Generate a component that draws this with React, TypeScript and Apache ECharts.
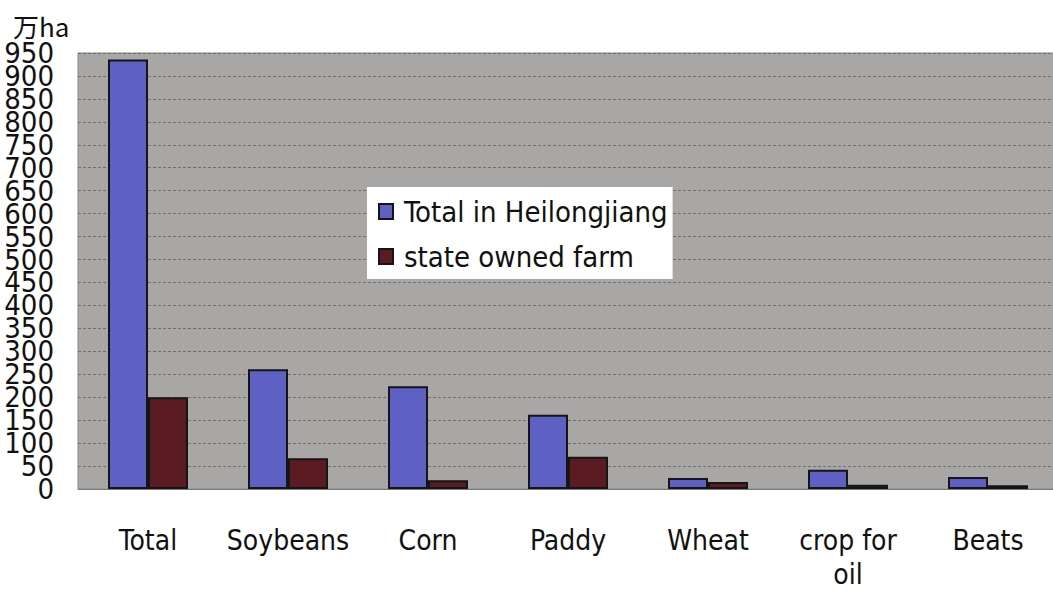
import React, { useEffect, useRef } from "react";
import * as echarts from "echarts";

const categories = ["Total", "Soybeans", "Corn", "Paddy", "Wheat", "crop for\noil", "Beats"];
const totalHeilongjiang = [936, 261, 224, 162, 24, 42, 26];
const stateOwnedFarm = [200, 67, 19, 70, 15, 9, 8];
const yTicks = { min: 0, max: 950, interval: 50 };
const unitLabel = "万ha";

const FONT = "'DejaVu Sans Condensed', 'Liberation Sans Narrow', 'DejaVu Sans', sans-serif";

export default function App() {
  const ref = useRef<HTMLDivElement>(null);
  useEffect(() => {
    if (!ref.current) return;
    const chart = echarts.init(ref.current, null, { renderer: "svg" });
    const yLabelStyle = {
      margin: 24,
      fontFamily: FONT,
      fontSize: 29,
      lineHeight: 16,
      color: "#111",
      hideOverlap: false,
    };
    chart.setOption({
      animation: false,
      backgroundColor: "#ffffff",
      grid: {
        left: 78,
        right: -5,
        top: 53,
        height: 436,
        outerBoundsMode: "none",
        containLabel: false,
        show: true,
        backgroundColor: "#a9a7a6",
        borderColor: "#8a8888",
        borderWidth: 1,
      },
      legend: {
        orient: "vertical",
        left: 367,
        top: 187,
        backgroundColor: "#ffffff",
        padding: [10, 5, 8, 11],
        itemGap: 16,
        itemWidth: 14,
        itemHeight: 15,
        icon: "rect",
        textStyle: { fontFamily: FONT, fontSize: 29, color: "#111", padding: [0, 0, 0, 6] },
        data: ["Total in Heilongjiang", "state owned farm"],
      },
      graphic: [
        {
          type: "text",
          left: 13,
          top: 12,
          style: {
            text: unitLabel,
            fontFamily: "'Noto Sans CJK JP', 'DejaVu Sans', sans-serif",
            fontSize: 26,
            fill: "#111",
          },
        },
      ],
      xAxis: {
        type: "category",
        data: categories,
        axisLine: { show: true, lineStyle: { color: "#7a7878", width: 1 } },
        axisTick: { show: false },
        axisLabel: {
          interval: 0,
          margin: 34,
          fontFamily: FONT,
          fontSize: 28,
          lineHeight: 34,
          color: "#111",
        },
      },
      yAxis: [
        {
          type: "value",
          position: "left",
          min: yTicks.min,
          max: yTicks.max,
          interval: yTicks.interval,
          axisLine: { show: false },
          axisTick: { show: false },
          axisLabel: { ...yLabelStyle, showMinLabel: false, showMaxLabel: false },
          splitLine: {
            show: true,
            lineStyle: { color: "#6f6d6d", width: 1, type: [3, 2] },
          },
        },
        {
          type: "value",
          position: "left",
          offset: 0,
          min: yTicks.min,
          max: yTicks.max,
          interval: yTicks.max,
          axisLine: { show: false },
          axisTick: { show: false },
          axisLabel: { ...yLabelStyle, showMinLabel: true, showMaxLabel: true },
          splitLine: { show: false },
        },
      ],
      series: [
        {
          name: "Total in Heilongjiang",
          type: "bar",
          data: totalHeilongjiang,
          barWidth: 40,
          barGap: "0%",
          itemStyle: { color: "#5f60c4", borderColor: "#151515", borderWidth: 2 },
        },
        {
          name: "state owned farm",
          type: "bar",
          data: stateOwnedFarm,
          barWidth: 40,
          barGap: "0%",
          itemStyle: { color: "#5a1c22", borderColor: "#151515", borderWidth: 2 },
        },
      ],
    });
    return () => chart.dispose();
  }, []);
  return (
    <div
      ref={ref}
      style={{ position: "fixed", left: 0, top: 0, width: 1053, height: 593, background: "#fff" }}
    />
  );
}
